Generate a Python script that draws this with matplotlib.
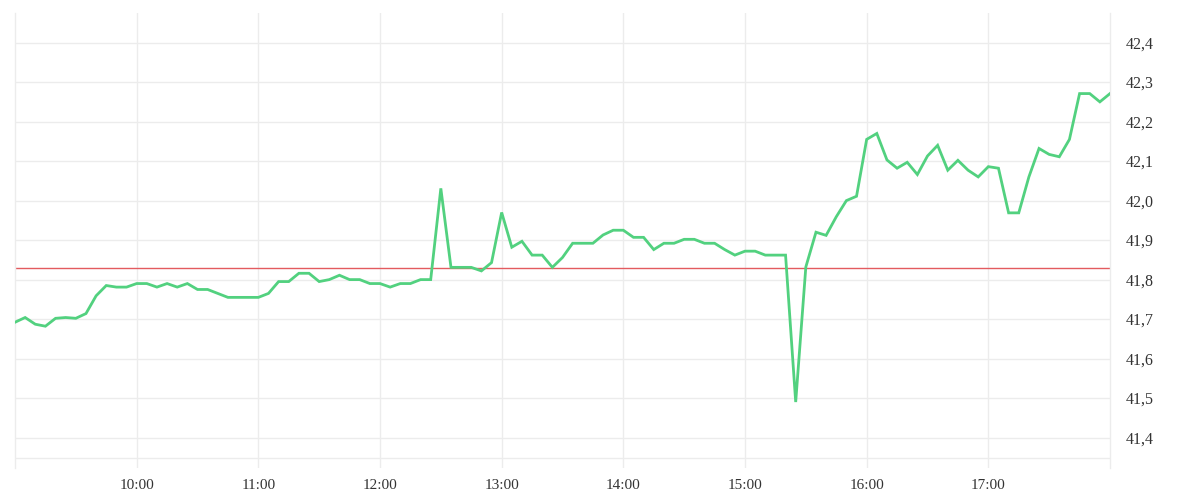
import matplotlib
matplotlib.use("Agg")
import matplotlib.pyplot as plt
import numpy as np

# ---- data ----
start_hour = 9.0
step_minutes = 5
prices = [
    41.692, 41.704, 41.687, 41.682, 41.702, 41.704, 41.702, 41.714, 41.759, 41.785,
    41.781, 41.781, 41.790, 41.790, 41.781, 41.790, 41.781, 41.790, 41.775, 41.775,
    41.765, 41.755, 41.755, 41.755, 41.755, 41.765, 41.795, 41.795, 41.816, 41.816,
    41.795, 41.800, 41.811, 41.800, 41.800, 41.790, 41.790, 41.781, 41.790, 41.790,
    41.800, 41.800, 42.031, 41.831, 41.831, 41.831, 41.822, 41.843, 41.970, 41.882,
    41.897, 41.862, 41.862, 41.831, 41.856, 41.892, 41.892, 41.892, 41.913, 41.925,
    41.925, 41.907, 41.907, 41.876, 41.892, 41.892, 41.902, 41.902, 41.892, 41.892,
    41.876, 41.862, 41.872, 41.872, 41.862, 41.862, 41.862, 41.490, 41.832, 41.920,
    41.912, 41.959, 42.000, 42.011, 42.155, 42.170, 42.103, 42.082, 42.097, 42.066,
    42.113, 42.140, 42.077, 42.102, 42.077, 42.060, 42.086, 42.082, 41.969, 41.969,
    42.060, 42.132, 42.117, 42.111, 42.155, 42.271, 42.271, 42.250, 42.271,
]
reference_price = 41.83
hour_ticks = [10, 11, 12, 13, 14, 15, 16, 17]
hour_labels = ["10:00", "11:00", "12:00", "13:00", "14:00", "15:00", "16:00", "17:00"]
y_ticks = [41.4, 41.5, 41.6, 41.7, 41.8, 41.9, 42.0, 42.1, 42.2, 42.3, 42.4]
y_labels = ["41,4", "41,5", "41,6", "41,7", "41,8", "41,9", "42,0", "42,1", "42,2", "42,3", "42,4"]

times = start_hour + np.arange(len(prices)) * step_minutes / 60.0

# ---- figure ----
fig = plt.figure(figsize=(12, 5), dpi=100)
ax = fig.add_axes([15 / 1200, 32 / 500, 1095 / 1200, 455 / 500])

grid_color = "#ececec"
ax.set_xlim(9.0, 18.0)
ax.set_ylim(41.323, 42.475)

ax.set_yticks(y_ticks)
ax.set_yticklabels(y_labels)
ax.set_xticks(hour_ticks)
ax.set_xticklabels(hour_labels)
ax.yaxis.tick_right()

ax.grid(True, color=grid_color, linewidth=1.0)
ax.set_axisbelow(True)
ax.axhline(41.348, color=grid_color, linewidth=1.0, zorder=0)

for side in ["top", "bottom"]:
    ax.spines[side].set_visible(False)
for side in ["left", "right"]:
    ax.spines[side].set_color(grid_color)
    ax.spines[side].set_linewidth(1.0)

tick_family = ["Liberation Serif", "DejaVu Serif"]
ax.tick_params(axis="both", length=0, colors="#333333")
ax.tick_params(axis="x", pad=8)
ax.tick_params(axis="y", pad=11.5)
for lbl in ax.get_xticklabels():
    lbl.set_fontfamily(tick_family)
    lbl.set_fontsize(11)
    lbl.set_color("#333333")
for lbl in ax.get_yticklabels():
    lbl.set_fontfamily(tick_family)
    lbl.set_fontsize(11.5)
    lbl.set_color("#333333")

ax.axhline(reference_price, color="#e35b5f", linewidth=1.0, zorder=2)
ax.plot(times, prices, color="#52d17f", linewidth=2.0, solid_joinstyle="miter", zorder=3)

fig.savefig("out.png", dpi=100)
